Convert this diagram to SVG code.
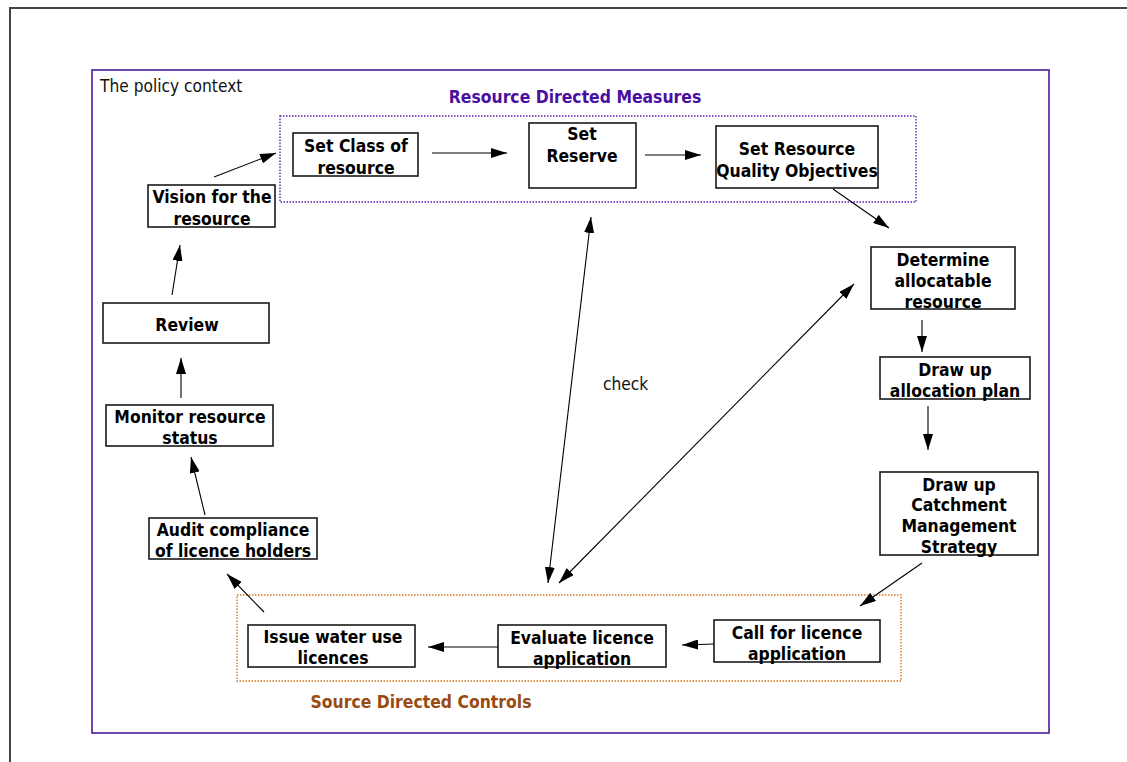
<svg xmlns="http://www.w3.org/2000/svg" width="1127" height="762" viewBox="0 0 1127 762">
<style>
.node rect{stroke:#1a1a1a;stroke-width:1.6;fill:#fff}
.node text{font-family:"DejaVu Sans Condensed","DejaVu Sans",sans-serif;font-weight:bold;font-size:17.4px;fill:#000;text-anchor:middle}
.c{fill:#dcf9fd}
.q{fill:#a6aefc}
.conn line{stroke:#000;stroke-width:1.1}
.lbl{font-family:"DejaVu Sans Condensed","DejaVu Sans",sans-serif;font-size:17.2px;fill:#111}
.ttl{font-family:"DejaVu Sans Condensed","DejaVu Sans",sans-serif;font-weight:bold;font-size:17.4px;text-anchor:middle}
</style>
<defs>
<marker id="ah" viewBox="0 0 16 10" refX="16" refY="5" markerWidth="16" markerHeight="10" markerUnits="userSpaceOnUse" orient="auto-start-reverse">
<path d="M0,0 L16,5 L0,10 Z" fill="#000"/>
</marker>
</defs>
<rect width="1127" height="762" fill="#fff"/>
<path d="M10,762 L10,8 L1127,8" fill="none" stroke="#444" stroke-width="2"/>
<rect x="92" y="70" width="957" height="663" fill="none" stroke="#4a1a9a" stroke-width="1.6"/>
<text class="lbl" x="100" y="92">The policy context</text>
<text class="ttl" x="575" y="103" fill="#4a0fa0">Resource Directed Measures</text>
<rect x="280" y="116" width="636" height="86" fill="none" stroke="#5a20b0" stroke-width="1.4" stroke-dasharray="1.5,1.5"/>
<rect x="237" y="595" width="664" height="86" fill="none" stroke="#d9781f" stroke-width="1.4" stroke-dasharray="1.5,1.5"/>
<text class="ttl" x="421" y="708" fill="#9a4b12">Source Directed Controls</text>
<text class="lbl" x="603" y="390">check</text>

<g id="set-class" class="node"><rect class="c" x="293" y="133" width="125" height="43"/><text x="356" y="152">Set Class of</text><text x="356" y="174">resource</text></g>
<g id="set-reserve" class="node"><rect class="c" x="529" y="123" width="107" height="65"/><text x="582" y="140">Set</text><text x="582" y="162">Reserve</text></g>
<g id="set-rqo" class="node"><rect class="q" x="716" y="126" width="162" height="62"/><text x="797" y="155">Set Resource</text><text x="797" y="177">Quality Objectives</text></g>
<g id="vision" class="node"><rect x="148" y="185" width="127" height="42"/><text x="212" y="203">Vision for the</text><text x="212" y="225">resource</text></g>
<g id="review" class="node"><rect x="103" y="303" width="166" height="40"/><text x="187" y="331">Review</text></g>
<g id="monitor" class="node"><rect x="106" y="405" width="167" height="41"/><text x="190" y="423">Monitor resource</text><text x="190" y="444">status</text></g>
<g id="audit" class="node"><rect x="149" y="518" width="168" height="41"/><text x="233" y="536">Audit compliance</text><text x="233" y="557">of licence holders</text></g>
<g id="determine" class="node"><rect x="871" y="247" width="144" height="62"/><text x="943" y="266">Determine</text><text x="943" y="287">allocatable</text><text x="943" y="308">resource</text></g>
<g id="allocation" class="node"><rect x="880" y="357" width="150" height="42"/><text x="955" y="376">Draw up</text><text x="955" y="397">allocation plan</text></g>
<g id="cms" class="node"><rect x="880" y="472" width="158" height="83"/><text x="959" y="491">Draw up</text><text x="959" y="511">Catchment</text><text x="959" y="532">Management</text><text x="959" y="553">Strategy</text></g>
<g id="issue" class="node"><rect x="248" y="625" width="167" height="42"/><text x="333" y="643">Issue water use</text><text x="333" y="664">licences</text></g>
<g id="evaluate" class="node"><rect x="498" y="625" width="168" height="42"/><text x="582" y="644">Evaluate licence</text><text x="582" y="665">application</text></g>
<g id="call" class="node"><rect x="714" y="620" width="166" height="42"/><text x="797" y="639">Call for licence</text><text x="797" y="660">application</text></g>

<g id="connectors" class="conn">
<line x1="214" y1="177" x2="276" y2="153" marker-end="url(#ah)"/>
<line x1="172" y1="295" x2="180" y2="245" marker-end="url(#ah)"/>
<line x1="181" y1="398" x2="181" y2="358" marker-end="url(#ah)"/>
<line x1="205" y1="515" x2="191" y2="457" marker-end="url(#ah)"/>
<line x1="264" y1="612" x2="227" y2="574" marker-end="url(#ah)"/>
<line x1="498" y1="647" x2="428" y2="647" marker-end="url(#ah)"/>
<line x1="714" y1="644" x2="682" y2="645" marker-end="url(#ah)"/>
<line x1="922" y1="563" x2="860" y2="606" marker-end="url(#ah)"/>
<line x1="922" y1="320" x2="922" y2="352" marker-end="url(#ah)"/>
<line x1="928" y1="406" x2="928" y2="450" marker-end="url(#ah)"/>
<line x1="833" y1="189" x2="889" y2="228" marker-end="url(#ah)"/>
<line x1="432" y1="153" x2="507" y2="153" marker-end="url(#ah)"/>
<line x1="645" y1="155" x2="701" y2="155" marker-end="url(#ah)"/>
<line x1="591" y1="217" x2="548" y2="583" marker-start="url(#ah)" marker-end="url(#ah)"/>
<line x1="854" y1="284" x2="559" y2="583" marker-start="url(#ah)" marker-end="url(#ah)"/>
</g>
</svg>
